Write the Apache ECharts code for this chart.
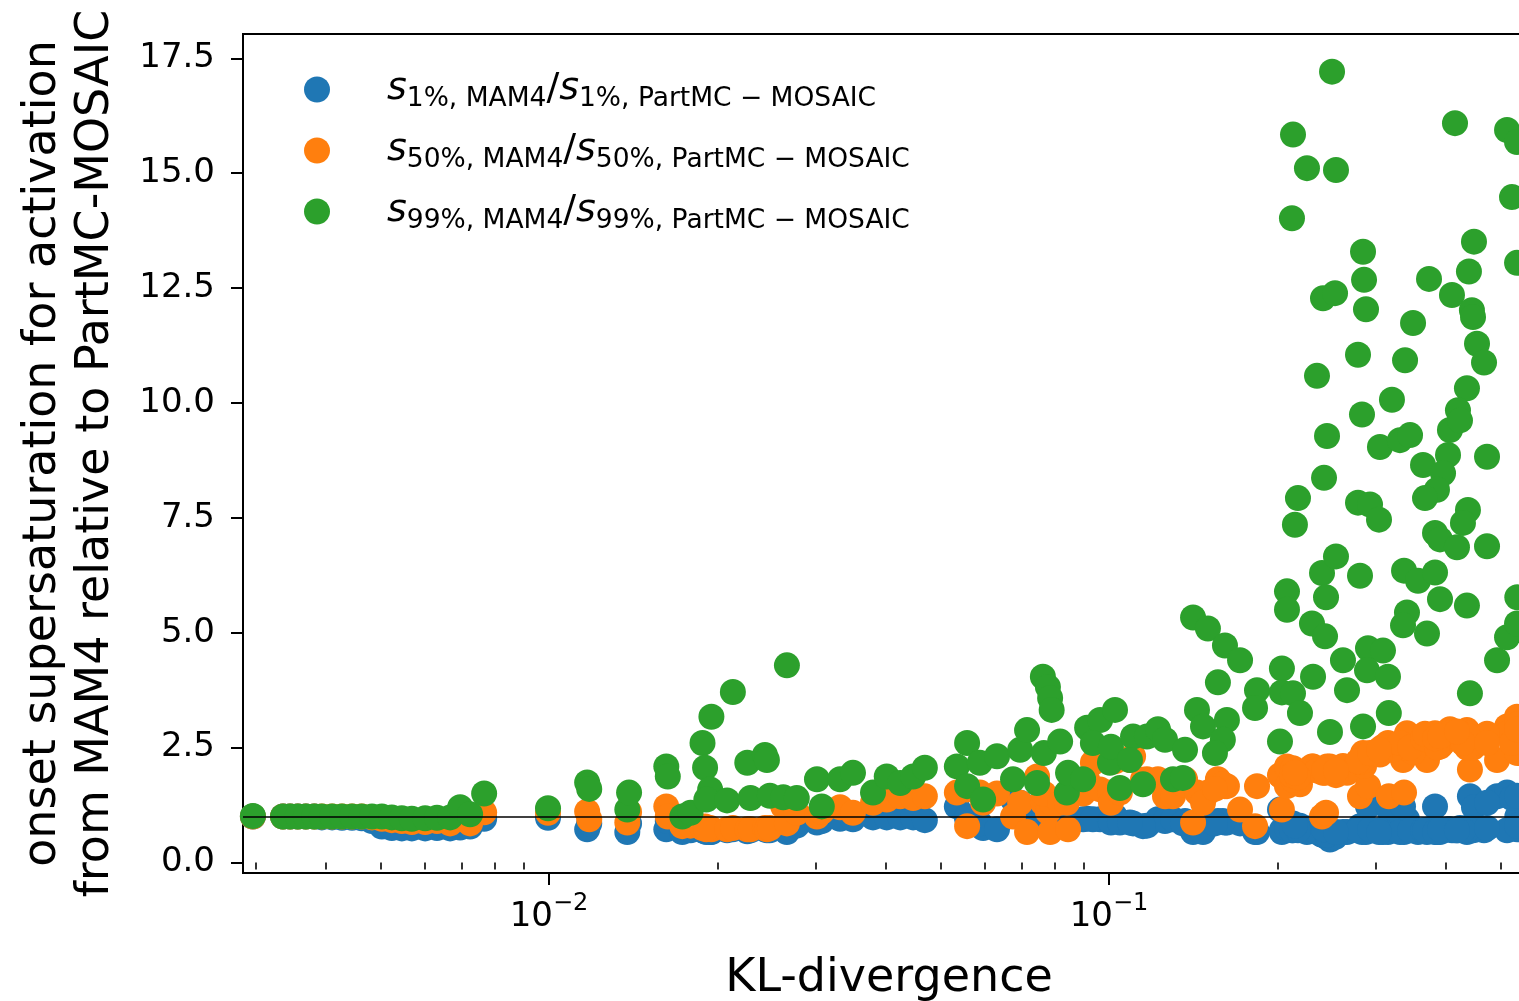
<!DOCTYPE html>
<html>
<head>
<meta charset="utf-8">
<script src="https://cdn.jsdelivr.net/npm/echarts@6/dist/echarts.min.js"></script>
<style>
  html, body { margin: 0; padding: 0; background: #fff; }
  #chart { width: 1519px; height: 1001px; }
</style>
</head>
<body>
<div id="chart"></div>
<script>
// KL-divergence of each case (shared by the three ratios)
const kl = [
  0.00296, 0.00335, 0.00345, 0.00356, 0.00368, 0.00381, 0.00393, 0.0041, 0.00427, 0.00445,
  0.00463, 0.00483, 0.00503, 0.00524, 0.00546, 0.00569, 0.00601, 0.00631, 0.00666, 0.00694,
  0.00723, 0.00766, 0.00996, 0.0117, 0.0118, 0.0138, 0.0139, 0.0162, 0.0163, 0.0173,
  0.0179, 0.0188, 0.0195, 0.019, 0.0194, 0.0191, 0.0208, 0.0213, 0.0226, 0.0229,
  0.0243, 0.0245, 0.0248, 0.0262, 0.0266, 0.0277, 0.0301, 0.0307, 0.0331, 0.0349,
  0.0379, 0.0401, 0.0424, 0.0447, 0.0469,
  0.0535, 0.0558, 0.0558, 0.0596, 0.0588, 0.0631, 0.0674, 0.0694, 0.0714, 0.0762,
  0.0778, 0.0785, 0.079, 0.0744, 0.0765, 0.0818, 0.0841, 0.0845, 0.0899, 0.0914,
  0.0964, 0.1025, 0.0936, 0.1004, 0.1008, 0.1046, 0.1104, 0.1169, 0.1223, 0.1259,
  0.115, 0.1301, 0.109, 0.1367, 0.1355,
  0.1413, 0.1502, 0.1611, 0.1714, 0.1436, 0.1472, 0.1565, 0.1624, 0.1597, 0.1546,
  0.1838, 0.1823, 0.2036, 0.2036, 0.202, 0.2079, 0.2079, 0.2131, 0.2193, 0.2314,
  0.2401, 0.2441, 0.2304, 0.2431, 0.2481, 0.2617, 0.2661, 0.2807, 0.2842, 0.2901,
  0.3085, 0.2889, 0.3149, 0.316, 0.3364, 0.3405, 0.335, 0.3563, 0.3697, 0.3821,
  0.39, 0.4357, 0.4411, 0.4931, 0.5138, 0.5354, 0.536,
  0.2502, 0.2131, 0.2257, 0.2543, 0.4148, 0.5138, 0.5354, 0.5244, 0.2122, 0.2842,
  0.2854, 0.2877, 0.2411, 0.2533, 0.3728, 0.4485, 0.4393, 0.4097, 0.4447, 0.4467,
  0.3491, 0.5354, 0.4541, 0.4674, 0.2784, 0.3378, 0.2352, 0.4357, 0.4199, 0.4063,
  0.4234, 0.3201, 0.283, 0.2451, 0.3047, 0.3308, 0.3448, 0.4732, 0.3637, 0.4031,
  0.3949, 0.3852, 0.3667, 0.2421, 0.2175, 0.2148, 0.2784, 0.2925, 0.3035, 0.4375,
  0.4286, 0.3821, 0.39, 0.4182, 0.4732, 0.2543
];

// s_1%, MAM4 / s_1%, PartMC-MOSAIC
const s1 = [
  1.0, 1.0, 1.0, 1.0, 1.0, 1.0, 0.98, 0.98, 0.97, 0.97, 0.96, 0.9, 0.78, 0.75, 0.74, 0.74,
  0.74, 0.75, 0.74, 0.76, 0.78, 0.95, 0.97, 0.72, 0.85, 0.66, 0.85, 0.72, 0.9, 0.66, 0.7,
  0.7, 0.66, 0.68, 0.66, 0.66, 0.7, 0.72, 0.68, 0.7, 0.72, 0.7, 0.7, 0.8, 0.66, 0.8,
  0.87, 0.9, 0.95, 0.94, 0.98, 0.98, 0.98, 0.98, 0.92,
  1.22, 1.0, 0.95, 0.75, 0.85, 0.72, 1.37, 1.3, 0.85, 0.9, 0.9, 0.72, 0.9, 0.98, 0.94,
  0.94, 0.94, 0.85, 0.94, 0.95, 0.94, 1.0, 0.94, 0.9, 0.87, 0.87, 0.85, 0.8, 0.94, 0.9,
  0.79, 0.94, 0.87, 0.9, 0.85,
  0.66, 0.9, 0.87, 0.85, 0.8, 0.66, 0.9, 0.87, 0.9, 0.85,
  0.66, 0.66, 0.66, 0.7, 1.15, 0.8, 0.75, 0.85, 0.8, 0.7, 0.6, 0.57, 0.75, 0.66, 0.5,
  0.66, 0.66, 0.79, 0.72, 1.22, 0.66, 0.72, 0.66, 1.15, 0.66, 0.94, 1.22, 0.66, 0.66, 1.22,
  0.66, 0.66, 1.44, 1.44, 1.52, 0.72, 1.0,
  0.62, 0.7, 0.66, 0.6, 0.7, 0.7, 0.8, 1.4, 0.7, 0.7, 0.75, 0.66, 0.6, 0.55, 0.72, 1.2,
  0.75, 0.7, 0.72, 0.7, 0.7, 1.45, 0.72, 0.7, 0.72, 0.7, 0.66, 0.75, 0.7, 0.72, 0.75, 0.72,
  0.66, 0.6, 0.7, 0.66, 0.7, 1.3, 0.7, 0.72, 0.7, 0.66, 0.7, 0.72, 0.7, 0.8, 0.7, 0.72,
  0.66, 0.72, 0.7, 0.66, 0.72, 0.7, 0.75, 0.66
];

// s_50%, MAM4 / s_50%, PartMC-MOSAIC
const s50 = [
  1.0, 1.0, 1.0, 1.0, 1.0, 1.0, 1.0, 1.0, 1.0, 1.0, 1.0, 0.98, 0.95, 0.92, 0.9, 0.88,
  0.88, 0.9, 0.85, 0.95, 0.85, 1.09, 1.08, 1.11, 0.94, 0.87, 1.1, 1.22, 1.0, 0.79, 0.8,
  0.75, 0.72, 0.78, 0.75, 0.72, 0.72, 0.75, 0.72, 0.72, 0.75, 0.72, 0.75, 1.22, 0.85, 1.08,
  1.0, 1.1, 1.2, 1.08, 1.3, 1.37, 1.44, 1.4, 1.44,
  1.52, 0.79, 1.59, 1.3, 1.52, 1.5, 1.0, 1.3, 0.66, 1.3, 1.1, 0.66, 1.3, 1.87, 1.5,
  1.3, 1.3, 0.72, 1.5, 1.8, 1.59, 2.2, 2.17, 1.52, 1.3, 1.52, 2.31, 1.81, 1.81, 1.44,
  1.8, 1.44, 2.23, 1.81, 1.7,
  0.87, 1.52, 1.66, 1.15, 1.52, 1.3, 1.81, 1.66, 1.7, 1.6,
  1.66, 0.79, 1.87, 1.15, 1.9, 2.09, 1.66, 2.05, 1.7, 2.09, 1.0, 1.08, 2.09, 1.95, 2.09,
  2.1, 1.95, 1.44, 2.38, 1.66, 2.52, 2.3, 2.6, 1.44, 1.52, 2.81, 2.23, 2.5, 2.23, 2.81,
  2.52, 2.88, 2.02, 2.23, 2.96, 3.17, 2.38,
  2.0, 1.8, 2.0, 1.9, 2.7, 2.8, 3.0, 2.6, 1.9, 2.2, 2.1, 2.3, 1.95, 2.0, 2.6, 2.7,
  2.8, 2.7, 2.6, 2.5, 2.4, 2.9, 2.6, 2.75, 2.2, 2.5, 2.0, 2.5, 2.7, 2.9, 2.8, 2.45,
  2.2, 2.09, 2.35, 2.6, 2.5, 2.8, 2.7, 2.8, 2.6, 2.5, 2.8, 2.0, 1.85, 1.95, 2.2, 2.38,
  2.45, 2.75, 2.6, 2.7, 2.75, 2.85, 2.6, 2.0
];

// s_99%, MAM4 / s_99%, PartMC-MOSAIC
const s99 = [
  1.01, 1.0, 1.0, 1.0, 1.0, 1.0, 1.0, 1.0, 1.0, 1.0, 1.0, 1.0, 1.0, 0.98, 0.96, 0.95,
  0.96, 0.97, 0.98, 1.2, 1.05, 1.5, 1.18, 1.74, 1.6, 1.15, 1.52, 2.09, 1.87, 1.0, 1.08,
  2.6, 3.17, 2.06, 1.59, 1.37, 1.35, 3.71, 2.17, 1.4, 2.34, 2.23, 1.45, 1.42, 4.29, 1.4,
  1.81, 1.22, 1.81, 1.95, 1.52, 1.87, 1.73, 1.87, 2.06,
  2.09, 2.6, 1.66, 1.37, 2.17, 2.31, 1.81, 2.45, 2.88, 4.04, 3.82, 3.58, 3.32, 1.73, 2.38,
  2.63, 1.52, 1.95, 1.81, 2.93, 3.1, 3.32, 2.6, 2.17, 2.52, 1.62, 2.74, 2.74, 2.9, 2.67,
  1.7, 1.81, 2.23, 2.45, 1.84,
  5.33, 5.09, 4.72, 4.4, 3.32, 2.96, 3.92, 3.1, 2.67, 2.38,
  3.75, 3.36, 4.22, 3.7, 2.63, 5.9, 5.5, 3.68, 3.25, 4.04, 6.3, 5.77, 5.2, 4.92, 2.84,
  4.4, 3.75, 6.24, 2.96, 4.66, 4.61, 4.18, 4.04, 3.25, 6.35, 5.44, 5.16, 6.13, 4.98, 6.31,
  5.73, 5.59, 3.68, 4.4, 4.9, 5.2, 5.77,
  17.21, 15.84, 15.11, 15.07, 16.09, 15.94, 15.68, 14.48, 14.02, 13.29, 12.68, 12.04, 12.28,
  12.39, 12.7, 13.51, 12.86, 12.35, 12.02, 11.87, 11.74, 13.05, 11.29, 10.88, 11.05, 10.93,
  10.59, 10.32, 9.84, 9.41, 9.62, 10.07, 9.75, 9.28, 9.04, 9.19, 9.3, 8.83, 8.65, 8.87,
  8.47, 8.11, 7.93, 8.37, 7.93, 7.35, 7.83, 7.79, 7.46, 7.67, 7.39, 7.17, 7.03, 6.86, 6.88, 6.66
];

const seriesNames = ['1%', '50%', '99%'];
const seriesColors = ['#1f77b4', '#ff7f0e', '#2ca02c'];
const yTicks = [0, 2.5, 5, 7.5, 10, 12.5, 15, 17.5];
const xMajorTicks = [0.01, 0.1];
const xMinorTicks = [0.003, 0.004, 0.005, 0.006, 0.007, 0.008, 0.009,
  0.02, 0.03, 0.04, 0.05, 0.06, 0.07, 0.08, 0.09, 0.2, 0.3, 0.4, 0.5, 0.6, 0.7];

const FONT = 'DejaVu Sans';
const chart = echarts.init(document.getElementById('chart'), null, { renderer: 'canvas' });

const ratioSeries = [s1, s50, s99].map((vals, i) => ({
  name: seriesNames[i],
  type: 'scatter',
  xAxisIndex: 0,
  yAxisIndex: 0,
  symbol: 'circle',
  symbolSize: 26,
  itemStyle: { color: seriesColors[i], opacity: 1 },
  emphasis: { disabled: true },
  data: vals.map((v, k) => [kl[k], v])
}));

// reference line at ratio = 1, drawn above the points
ratioSeries[2].markLine = {
  silent: true,
  symbol: ['none', 'none'],
  label: { show: false },
  lineStyle: { color: '#000', width: 1.5, type: 'solid' },
  data: [{ yAxis: 1 }],
  animation: false
};

const legendRich = {
  s: { fontFamily: FONT, fontStyle: 'italic', fontSize: 38, lineHeight: 40, color: '#000' },
  sl: { fontFamily: FONT, fontSize: 38, lineHeight: 40, color: '#000' },
  sub: { fontFamily: FONT, fontSize: 26.5, lineHeight: 40, color: '#000', padding: [20, 0, 0, 0] }
};

const xLabelRich = {
  b: { fontFamily: FONT, fontSize: 34, color: '#000', lineHeight: 40 },
  sup: { fontFamily: FONT, fontSize: 24, color: '#000', lineHeight: 40, padding: [0, 0, 26, 0] }
};

const xCommon = {
  type: 'log',
  logBase: 10,
  min: 0.002842,
  max: 0.7499,
  position: 'bottom',
  splitLine: { show: false },
  minorTick: { show: false },
  minorSplitLine: { show: false }
};

chart.setOption({
  animation: false,
  backgroundColor: '#fff',
  grid: {
    left: 243,
    top: 34,
    bottom: 128,
    right: -80,
    containLabel: false,
    outerBoundsMode: 'none',
    show: true,
    borderColor: '#000',
    borderWidth: 2,
    backgroundColor: 'transparent'
  },
  legend: {
    orient: 'vertical',
    left: 299,
    top: 61,
    itemWidth: 130,
    itemHeight: 26,
    itemGap: 14,
    icon: 'circle',
    selectedMode: false,
    data: seriesNames,
    formatter: (name) =>
      `{s|s}{sub|${name}, MAM4}{sl|/}{s|s}{sub|${name}, PartMC \u2212 MOSAIC}`,
    textStyle: { rich: legendRich, fontFamily: FONT, color: '#000' }
  },
  xAxis: [
    Object.assign({}, xCommon, {
      name: 'KL-divergence',
      nameLocation: 'middle',
      nameGap: 83,
      nameTextStyle: { fontFamily: FONT, fontSize: 46, color: '#000', padding: [0, 64, 0, 0] },
      axisLine: { show: true, onZero: false, lineStyle: { color: '#000', width: 2 } },
      axisTick: { show: true, length: 12, lineStyle: { color: '#000', width: 2 }, customValues: xMajorTicks },
      axisLabel: {
        show: true,
        margin: 24,
        customValues: xMajorTicks,
        formatter: (v) => `{b|10}{sup|\u2212${Math.abs(Math.round(Math.log10(v)))}}`,
        rich: xLabelRich
      }
    }),
    Object.assign({}, xCommon, {
      axisLine: { show: false },
      axisTick: { show: true, length: 7, lineStyle: { color: '#000', width: 1.6 }, customValues: xMinorTicks },
      axisLabel: { show: false }
    })
  ],
  yAxis: {
    type: 'value',
    min: -0.23,
    max: 18.03,
    position: 'left',
    name: 'onset supersaturation for activation\nfrom MAM4 relative to PartMC-MOSAIC',
    nameLocation: 'middle',
    nameRotate: 90,
    nameGap: 120,
    nameTextStyle: { fontFamily: FONT, fontSize: 46, color: '#000', lineHeight: 53 },
    splitLine: { show: false },
    axisLine: { show: true, onZero: false, lineStyle: { color: '#000', width: 2 } },
    axisTick: { show: true, length: 12, lineStyle: { color: '#000', width: 2 }, customValues: yTicks },
    axisLabel: {
      show: true,
      margin: 28,
      customValues: yTicks,
      formatter: (v) => v.toFixed(1),
      fontFamily: FONT,
      fontSize: 34,
      color: '#000'
    }
  },
  series: ratioSeries
});
</script>
</body>
</html>
